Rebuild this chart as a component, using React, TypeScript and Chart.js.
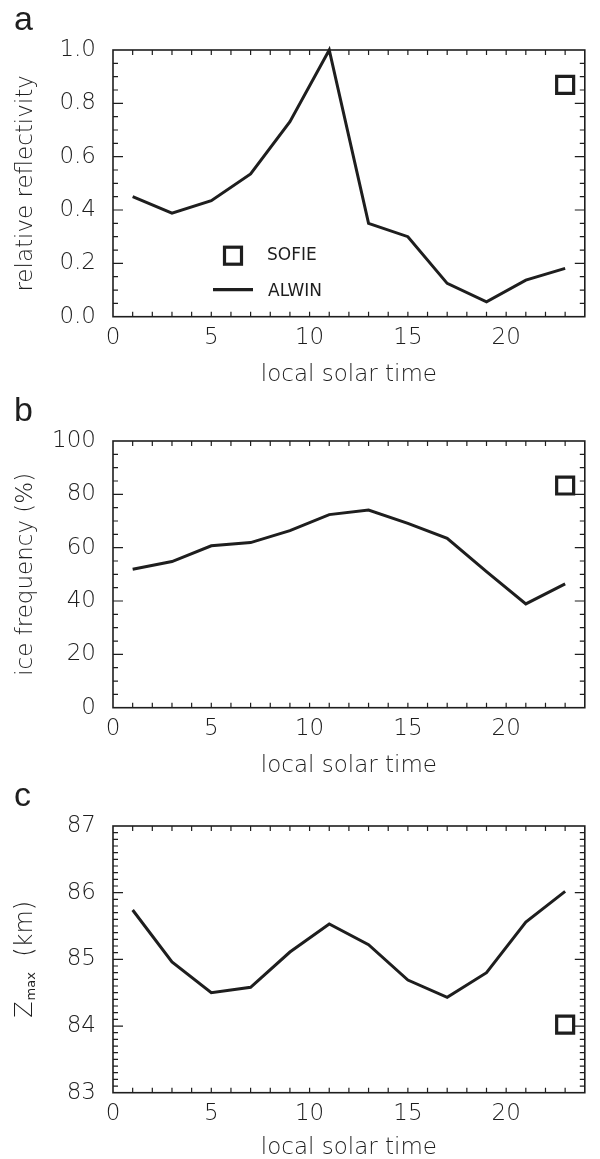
import React, { useEffect, useRef } from 'react';
import { Chart, registerables } from 'chart.js';
Chart.register(...registerables);

// ---- data ----
const hours = [1, 3, 5, 7, 9, 11, 13, 15, 17, 19, 21, 23];
const reflectivity = [0.45, 0.388, 0.435, 0.535, 0.731, 1.0, 0.35, 0.30, 0.125, 0.056, 0.137, 0.181];
const iceFrequency = [51.9, 54.8, 60.7, 61.9, 66.4, 72.4, 74.1, 69.1, 63.5, 51.0, 38.9, 46.4];
const zmax = [85.74, 84.96, 84.5, 84.58, 85.11, 85.53, 85.22, 84.69, 84.43, 84.8, 85.56, 86.02];
const sofieHour = [23];
const sofieReflectivity = [0.869];
const sofieIce = [83.3];
const sofieZmax = [84.02];
const xTicks = [0, 5, 10, 15, 20];
const reflTicks = [0, 0.2, 0.4, 0.6, 0.8, 1.0];
const iceTicks = [0, 20, 40, 60, 80, 100];
const zTicks = [83, 84, 85, 86, 87];

const FONT = "'DejaVu Sans', sans-serif";
const INK = '#1e1e1e';
const PLOT_H = 266.7;

const decorPlugin = {
  id: 'decor',
  afterDraw(chart: any, _args: any, opts: any) {
    const { ctx, chartArea } = chart;
    const { left, right, top, bottom } = chartArea;
    const xs = chart.scales.x;
    const ys = chart.scales.y;
    ctx.save();
    ctx.strokeStyle = INK;
    ctx.lineWidth = 1.6;
    ctx.strokeRect(left, top, right - left, bottom - top);
    ctx.lineWidth = 1.2;
    ctx.beginPath();
    const nx = Math.round((xs.max - xs.min) / opts.xMinor);
    for (let i = 1; i < nx; i++) {
      const px = xs.getPixelForValue(xs.min + i * opts.xMinor);
      ctx.moveTo(px, bottom);
      ctx.lineTo(px, bottom - 5);
      ctx.moveTo(px, top);
      ctx.lineTo(px, top + 5);
    }
    const ny = Math.round((ys.max - ys.min) / opts.yMinor);
    const per = Math.round(opts.yMajor / opts.yMinor);
    for (let i = 1; i < ny; i++) {
      const py = ys.getPixelForValue(ys.min + i * opts.yMinor);
      const len = i % per === 0 ? 10 : 5;
      ctx.moveTo(left, py);
      ctx.lineTo(left + len, py);
      ctx.moveTo(right, py);
      ctx.lineTo(right - len, py);
    }
    ctx.stroke();

    // panel letter
    ctx.fillStyle = INK;
    ctx.font = "34px 'Liberation Sans', Arial, sans-serif";
    ctx.textAlign = 'left';
    ctx.textBaseline = 'alphabetic';
    ctx.fillText(opts.letter, 14, top - 20);

    if (opts.legend) {
      ctx.lineWidth = 3.2;
      const sx = left + 120;
      const sy = bottom - 61;
      ctx.strokeRect(sx - 8.5, sy - 8.5, 17, 17);
      ctx.font = `17px ${FONT}`;
      ctx.textBaseline = 'middle';
      ctx.fillText('SOFIE', left + 154, sy);
      ctx.beginPath();
      ctx.moveTo(left + 100, bottom - 27);
      ctx.lineTo(left + 140, bottom - 27);
      ctx.stroke();
      ctx.fillText('ALWIN', left + 155, bottom - 25);
    }

    if (opts.zTitle) {
      ctx.save();
      ctx.translate(26, (top + bottom) / 2);
      ctx.rotate(-Math.PI / 2);
      ctx.textBaseline = 'middle';
      ctx.textAlign = 'left';
      const big = `200 24px ${FONT}`;
      const small = `13px ${FONT}`;
      ctx.font = big;
      const wZ = ctx.measureText('Z').width;
      const wK = ctx.measureText('  (km)').width;
      ctx.font = small;
      const wM = ctx.measureText('max').width;
      const x0 = -(wZ + wM + wK + 1) / 2;
      ctx.font = big;
      ctx.fillText('Z', x0, 0);
      ctx.font = small;
      ctx.fillText('max', x0 + wZ + 1, 6);
      ctx.font = big;
      ctx.fillText('  (km)', x0 + wZ + wM + 1, 0);
      ctx.restore();
    }
    ctx.restore();
  },
};

type Panel = {
  values: number[];
  sofie: number[];
  yMin: number;
  yMax: number;
  yTicks: number[];
  yMinor: number;
  yMajor: number;
  decimals: number;
  yTitle: string;
  letter: string;
  legend: boolean;
  zTitle: boolean;
  top: number;
  height: number;
  padTop: number;
  xAxisH: number;
};

const panels: Panel[] = [
  {
    values: reflectivity, sofie: sofieReflectivity, yMin: 0, yMax: 1, yTicks: reflTicks,
    yMinor: 0.05, yMajor: 0.2, decimals: 1, yTitle: 'relative reflectivity', letter: 'a',
    legend: true, zTitle: false, top: 0, height: 392, padTop: 50, xAxisH: 72,
  },
  {
    values: iceFrequency, sofie: sofieIce, yMin: 0, yMax: 100, yTicks: iceTicks,
    yMinor: 5, yMajor: 20, decimals: 0, yTitle: 'ice frequency (%)', letter: 'b',
    legend: false, zTitle: false, top: 385, height: 400, padTop: 56, xAxisH: 72,
  },
  {
    values: zmax, sofie: sofieZmax, yMin: 83, yMax: 87, yTicks: zTicks,
    yMinor: 0.1, yMajor: 1, decimals: 0, yTitle: '', letter: 'c',
    legend: false, zTitle: true, top: 770, height: 395, padTop: 56, xAxisH: 69,
  },
];

function PanelChart({ p }: { p: Panel }) {
  const ref = useRef<HTMLCanvasElement>(null);
  useEffect(() => {
    if (!ref.current) return;
    const padBottom = p.height - p.padTop - PLOT_H - p.xAxisH;
    const chart = new Chart(ref.current, {
      type: 'line',
      data: {
        datasets: [
          {
            label: 'ALWIN',
            data: hours.map((h, i) => ({ x: h, y: p.values[i] })),
            borderColor: INK,
            borderWidth: 3,
            pointRadius: 0,
            fill: false,
            tension: 0,
            clip: false as any,
          },
          {
            label: 'SOFIE',
            data: sofieHour.map((h, i) => ({ x: h, y: p.sofie[i] })),
            showLine: false,
            pointStyle: 'rect',
            pointRadius: 12,
            pointBorderWidth: 3.2,
            borderColor: INK,
            pointBorderColor: INK,
            backgroundColor: 'rgba(0,0,0,0)',
            pointBackgroundColor: 'rgba(0,0,0,0)',
            clip: false as any,
          },
        ],
      },
      options: {
        animation: false,
        responsive: false,
        devicePixelRatio: 1,
        events: [],
        layout: { padding: { top: p.padTop, right: 7, bottom: padBottom, left: 0 } },
        scales: {
          x: {
            type: 'linear',
            min: 0,
            max: 24,
            afterBuildTicks: (s: any) => {
              s.ticks = xTicks.map((v) => ({ value: v }));
            },
            afterFit: (s: any) => {
              s.height = p.xAxisH;
            },
            grid: { display: false, drawTicks: false },
            border: { display: false },
            ticks: {
              font: { family: FONT, size: 23, weight: '200' as any },
              color: INK,
              padding: 8,
              maxRotation: 0,
              autoSkip: false,
            },
            title: {
              display: true,
              text: 'local solar time',
              font: { family: FONT, size: 23, weight: '200' as any },
              color: INK,
              padding: { top: 0, bottom: 0 },
            },
          },
          y: {
            type: 'linear',
            min: p.yMin,
            max: p.yMax,
            afterBuildTicks: (s: any) => {
              s.ticks = p.yTicks.map((v) => ({ value: v }));
            },
            afterFit: (s: any) => {
              s.width = 113;
            },
            grid: { display: false, drawTicks: false },
            border: { display: false },
            ticks: {
              font: { family: FONT, size: 23, weight: '200' as any },
              color: INK,
              padding: 17,
              autoSkip: false,
              callback: (v: any) => Number(v).toFixed(p.decimals),
            },
            title: {
              display: p.yTitle !== '',
              text: p.yTitle,
              font: { family: FONT, size: 23, weight: '200' as any },
              color: INK,
              padding: { top: 12, bottom: 0 },
            },
          },
        },
        plugins: {
          legend: { display: false },
          tooltip: { enabled: false },
          decor: {
            xMinor: 1,
            yMinor: p.yMinor,
            yMajor: p.yMajor,
            letter: p.letter,
            legend: p.legend,
            zTitle: p.zTitle,
          },
        } as any,
      },
      plugins: [decorPlugin],
    });
    return () => chart.destroy();
  }, [p]);
  return (
    <canvas
      ref={ref}
      width={600}
      height={p.height}
      style={{ position: 'absolute', left: 0, top: p.top, width: 600, height: p.height }}
    />
  );
}

export default function App() {
  return (
    <div
      style={{
        position: 'absolute',
        left: 0,
        top: 0,
        width: 600,
        height: 1159,
        overflow: 'hidden',
        background: '#fff',
      }}
    >
      {panels.map((p) => (
        <PanelChart key={p.letter} p={p} />
      ))}
    </div>
  );
}
